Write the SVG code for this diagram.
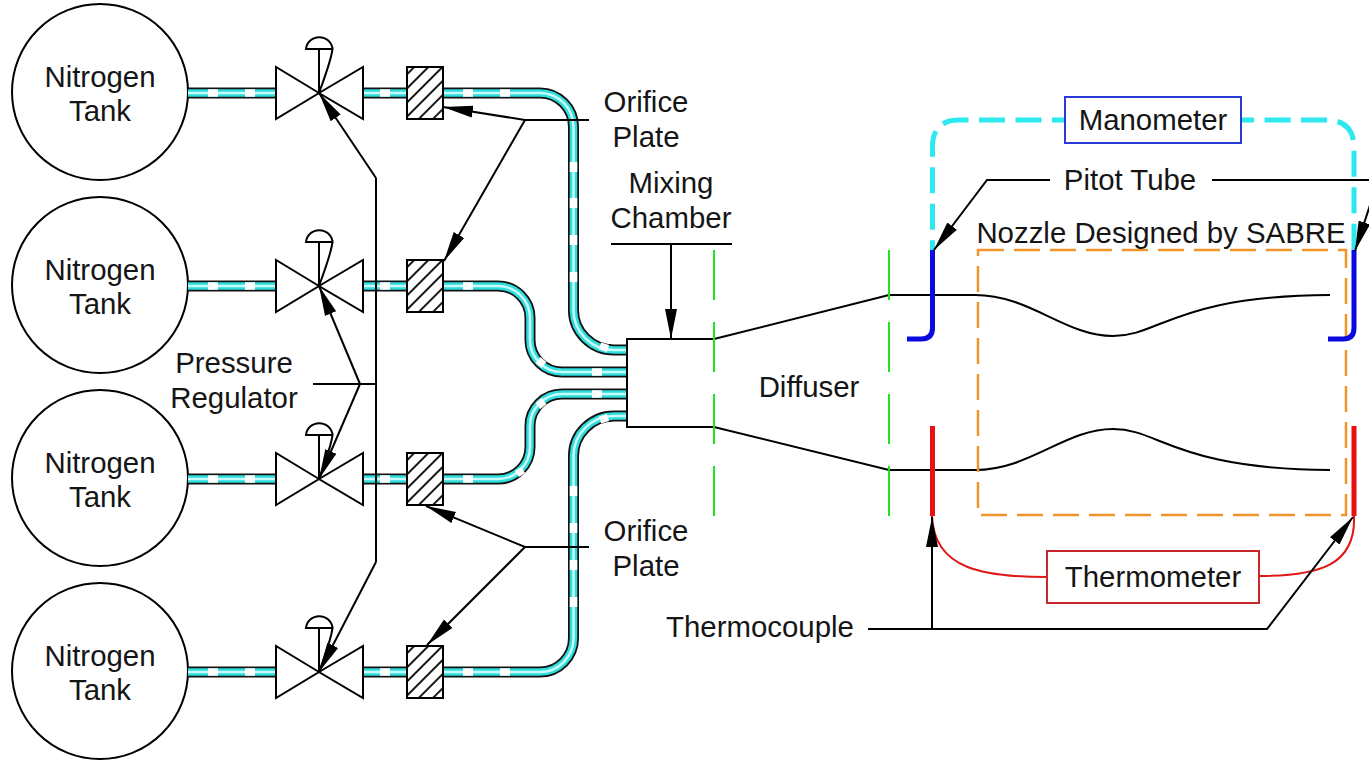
<svg xmlns="http://www.w3.org/2000/svg" width="1369" height="765" viewBox="0 0 1369 765">
<style>
text{font-family:"Liberation Sans",Arial,sans-serif;font-size:29.4px;fill:#151515;text-anchor:middle}
.l{fill:none;stroke:#000;stroke-width:2}
.tank{fill:#fff;stroke:#000;stroke-width:2}
.p1{fill:none;stroke:#111;stroke-width:11}
.p2{fill:none;stroke:#30dcdc;stroke-width:7.500}
.p3{fill:none;stroke:#c8fbfb;stroke-width:2.500}
.p4{fill:none;stroke:#fff;stroke-width:7.500}
.valve{fill:#fff;stroke:#000;stroke-width:2;stroke-linejoin:miter}
.g{fill:none;stroke:#22e022;stroke-width:2;stroke-dasharray:50 22}
.c{fill:none;stroke:#2ee8f0;stroke-width:5;stroke-dasharray:26 10.500;stroke-dashoffset:13}
.b{fill:none;stroke:#0a0ae0;stroke-width:5}
.r{fill:none;stroke:#e81010;stroke-width:5}
.rt{fill:none;stroke:#e01818;stroke-width:2}
.o{fill:none;stroke:#f0952a;stroke-width:2.500;stroke-dasharray:26 10}
.a{fill:none;stroke:#000;stroke-width:2;marker-end:url(#arr)}
</style>
<defs>
<marker id="arr" markerUnits="userSpaceOnUse" markerWidth="32" markerHeight="16" refX="30" refY="8" orient="auto"><path d="M0 2 L30 8 L0 14Z" fill="#000"/></marker>
<pattern id="hatch" width="10" height="10" patternUnits="userSpaceOnUse" patternTransform="rotate(45)"><rect width="10" height="10" fill="#fff"/><line x1="4" y1="0" x2="4" y2="10" stroke="#000" stroke-width="1.800"/></pattern>
<g id="valveShape">
<path class="valve" d="M0 0 L-43 -26 V26Z"/><path class="valve" d="M0 0 L44 -26 V26Z"/>
<path class="l" d="M0 0 V-44 M-13 -44 A13.300 13 0 0 1 13.500 -44 Z M13.500 -46 Q14 -38 0 0"/>
</g>
<rect id="plate" x="-18" y="-26" width="36" height="52" fill="url(#hatch)" stroke="#000" stroke-width="2"/>
<path id="pa" d="M188 93H276M363 93H407M443 93H540A33.500 34 0 0 1 573.500 127V310A40.500 40 0 0 0 614 350H627"/>
<path id="pb" d="M188 286H276M363 286H407M443 286H498A32 32 0 0 1 530 318V340A32 32 0 0 0 562 372H627"/>
<path id="pc" d="M188 479H276M363 479H407M443 479H498A32 32 0 0 0 530 447V426A32 32 0 0 1 562 394H627"/>
<path id="pd" d="M188 672H276M363 672H407M443 672H540A33.500 34 0 0 0 573.500 638V456A40.500 40 0 0 1 614 416H627"/>
</defs>

<g id="tank1"><circle class="tank" cx="100" cy="92" r="88"/><text x="100" y="87">Nitrogen</text><text x="100" y="121">Tank</text></g>
<g id="tank2"><circle class="tank" cx="100" cy="285" r="88"/><text x="100" y="280">Nitrogen</text><text x="100" y="314">Tank</text></g>
<g id="tank3"><circle class="tank" cx="100" cy="478" r="88"/><text x="100" y="473">Nitrogen</text><text x="100" y="507">Tank</text></g>
<g id="tank4"><circle class="tank" cx="100" cy="671" r="88"/><text x="100" y="666">Nitrogen</text><text x="100" y="700">Tank</text></g>

<g id="connectors">
<g id="pipes">
<use href="#pa" class="p1"/><use href="#pb" class="p1"/><use href="#pc" class="p1"/><use href="#pd" class="p1"/>
<use href="#pa" class="p2"/><use href="#pb" class="p2"/><use href="#pc" class="p2"/><use href="#pd" class="p2"/>
<use href="#pa" class="p3"/><use href="#pb" class="p3"/><use href="#pc" class="p3"/><use href="#pd" class="p3"/>
<path class="p4" d="M208 93h10M245 93h10M380 93h10M463 93h10M500 93h10M573.500 162v10M573.500 198v10M573.500 235v10M573.500 272v10M600 346l8 2.500"/>
<path class="p4" d="M208 286h10M245 286h10M380 286h10M463 286h10M592 372h10M538 360l6 5"/>
<path class="p4" d="M208 479h10M245 479h10M380 479h10M463 479h10M592 394h10M538 406l6-5M517 474l6-4"/>
<path class="p4" d="M208 672h10M245 672h10M380 672h10M463 672h10M500 672h10M573.500 486v10M573.500 523v10M573.500 560v10M573.500 597v10M600 420l8-2.500"/>
</g>
</g>

<g id="valve1"><use href="#valveShape" x="319" y="93"/></g>
<g id="valve2"><use href="#valveShape" x="319" y="286"/></g>
<g id="valve3"><use href="#valveShape" x="319" y="479"/></g>
<g id="valve4"><use href="#valveShape" x="319" y="672"/></g>
<g id="plate1"><use href="#plate" x="425" y="93"/></g>
<g id="plate2"><use href="#plate" x="425" y="286"/></g>
<g id="plate3"><use href="#plate" x="425" y="479"/></g>
<g id="plate4"><use href="#plate" x="425" y="672"/></g>

<g id="mixing-chamber"><path class="l" d="M714 339H627V427H714"/></g>
<g id="nozzle-walls">
<path class="l" d="M714 339L889 295H975C1030 295 1065 336 1113 336C1160 336 1175 296 1330 295"/>
<path class="l" d="M714 427L889 470H975C1030 470 1065 429 1113 429C1160 429 1175 469 1330 470"/>
</g>
<g id="section-lines"><path class="g" d="M714 250V516"/><path class="g" d="M889 250V516"/></g>
<g id="nozzle-box"><rect class="o" x="978" y="250" width="368" height="265"/></g>

<g id="manometer">
<path class="c" d="M1065 120H959Q932.500 120 932.500 147V250"/>
<path class="c" d="M1241 120H1326Q1354 120 1354 148V250"/>
<rect x="1065" y="97" width="176" height="46" fill="#fff" stroke="#2a3ad8" stroke-width="2"/>
<text x="1153" y="130">Manometer</text>
</g>
<g id="pitot">
<path class="b" d="M932.500 250V328Q932.500 339 921 339H907"/>
<path class="b" d="M1354 250V328Q1354 339 1343 339H1328"/>
</g>
<g id="thermometer">
<path class="r" d="M932.500 426V516M1354 426V516"/>
<path class="rt" d="M932 516C934 570 985 577 1047 577"/>
<path class="rt" d="M1259 576C1320 576 1356 565 1354 516"/>
<rect x="1047" y="551" width="212" height="52" fill="#fff" stroke="#c8282c" stroke-width="2"/>
<text x="1153" y="587">Thermometer</text>
</g>

<g id="leaders">
<path class="a" d="M376 178L319 93"/>
<path class="a" d="M360 384L319 286"/>
<path class="a" d="M360 384L319 479"/>
<path class="a" d="M376 562L319 672"/>
<path class="l" d="M376 178V562M313 384H376"/>
<path class="a" d="M589 120H525L443 107"/>
<path class="a" d="M525 120L444 261"/>
<path class="a" d="M589 547H525L426 506"/>
<path class="a" d="M525 547L427 645"/>
<path class="l" d="M611 244H732"/>
<path class="a" d="M671 244V339"/>
<path class="a" d="M1050 180H987L934 250"/>
<path class="l" d="M1212 180H1369"/>
<path class="a" d="M1375 190L1355 251"/>
<path class="a" d="M868 629H1267L1353 517"/>
<path class="a" d="M932 629V517"/>
</g>

<g id="labels">
<text x="646" y="112">Orifice</text><text x="646" y="147">Plate</text>
<text x="671" y="193">Mixing</text><text x="671" y="228">Chamber</text>
<text x="234" y="373">Pressure</text><text x="234" y="408">Regulator</text>
<text x="809" y="397">Diffuser</text>
<text x="646" y="541">Orifice</text><text x="646" y="576">Plate</text>
<text x="1130" y="190">Pitot Tube</text>
<text x="1161" y="243">Nozzle Designed by SABRE</text>
<text x="760" y="637">Thermocouple</text>
</g>
</svg>
